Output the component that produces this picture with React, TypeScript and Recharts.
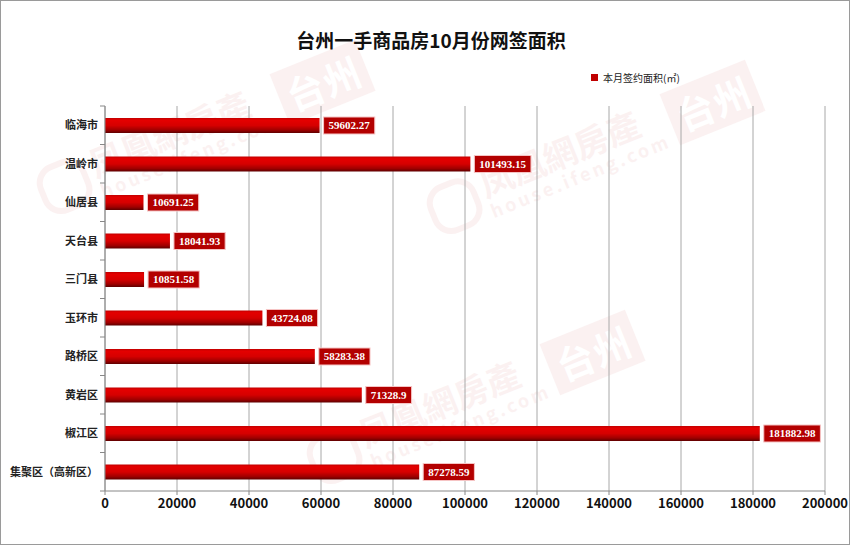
import React from "react";
import { BarChart, Bar, XAxis, YAxis, CartesianGrid, LabelList } from "recharts";

const categories = ["临海市", "温岭市", "仙居县", "天台县", "三门县", "玉环市", "路桥区", "黄岩区", "椒江区", "集聚区（高新区）"];
const areaValues = [59602.27, 101493.15, 10691.25, 18041.93, 10851.58, 43724.08, 58283.38, 71328.9, 181882.98, 87278.59];
const xTicks = [0, 20000, 40000, 60000, 80000, 100000, 120000, 140000, 160000, 180000, 200000];
const seriesName = "本月签约面积(㎡)";
const titleText = "台州一手商品房10月份网签面积";

const data = categories.map((c, i) => ({ name: c, value: areaValues[i] }));

const CJK = '"Noto Sans CJK SC", "Noto Sans", sans-serif';
const BAND = 38.5;

const YTick = (props: any) => {
  const { x, y, payload, index } = props;
  const ax = x + 8;
  return (
    <g>
      <line x1={ax - 5} x2={ax} y1={y - BAND / 2} y2={y - BAND / 2} stroke="#888" />
      {index === categories.length - 1 && (
        <line x1={ax - 5} x2={ax} y1={y + BAND / 2} y2={y + BAND / 2} stroke="#888" />
      )}
      <text x={ax - 7} y={y} dy="0.35em" textAnchor="end" fontFamily={CJK} fontWeight={700} fontSize={11} fill="#222">
        {payload.value}
      </text>
    </g>
  );
};

const ValueLabel = (props: any) => {
  const { x, y, width, height, value } = props;
  const txt = String(value);
  const w = txt.length * 5.4 + 8;
  const bx = x + width + 4;
  const cy = y + height / 2;
  return (
    <g>
      <rect x={bx} y={cy - 8.5} width={w} height={17} fill="#b30000" stroke="#f6c4c4" strokeWidth={1} />
      <text x={bx + w / 2} y={cy} dy="0.36em" textAnchor="middle" fill="#fff" fontFamily='"Liberation Serif", "DejaVu Serif", serif' fontWeight={700} fontSize={11}>
        {txt}
      </text>
    </g>
  );
};

const Watermark = ({ left, top, rot }: { left: number; top: number; rot: number }) => (
  <div
    style={{
      position: "absolute",
      left,
      top,
      transform: `rotate(${rot}deg)`,
      transformOrigin: "left top",
      color: "#c00000",
      opacity: 0.05,
      fontFamily: '"Noto Sans CJK TC", sans-serif',
      whiteSpace: "nowrap",
      display: "flex",
      alignItems: "center",
    }}
  >
    <div style={{ width: 40, height: 40, borderRadius: 20, border: "6px solid #c00000", marginRight: 6 }} />
    <div>
      <div style={{ fontSize: 34, lineHeight: "36px", fontWeight: 700 }}>凤凰網房產</div>
      <div style={{ fontSize: 18, lineHeight: "20px", letterSpacing: 3, fontWeight: 700 }}>house.ifeng.com</div>
    </div>
    <div style={{ marginLeft: 8, background: "#c00000", color: "#fff", fontSize: 38, fontWeight: 700, padding: "0 8px" }}>台州</div>
  </div>
);

export default function App() {
  return (
    <div
      style={{
        position: "absolute",
        left: 0,
        top: 0,
        width: 850,
        height: 545,
        background: "#fff",
        overflow: "hidden",
      }}
    >
      <Watermark left={30} top={170} rot={-22} />
      <Watermark left={420} top={190} rot={-22} />
      <Watermark left={300} top={440} rot={-22} />
      <div
        style={{
          position: "absolute",
          left: 0,
          top: 0,
          width: 850,
          height: 545,
          boxSizing: "border-box",
          border: "1px solid #9a9a9a",
        }}
      />
      <div
        style={{
          position: "absolute",
          left: 0,
          top: 26,
          width: 862,
          textAlign: "center",
          fontFamily: CJK,
          fontWeight: 700,
          fontSize: 19,
          color: "#111",
        }}
      >
        {titleText}
      </div>
      <div
        style={{
          position: "absolute",
          left: 591,
          top: 70,
          display: "flex",
          alignItems: "center",
          fontFamily: CJK,
          fontSize: 10,
          color: "#222",
          whiteSpace: "nowrap",
        }}
      >
        <span style={{ display: "inline-block", width: 7, height: 7, background: "#c00000", marginRight: 5 }} />
        {seriesName}
      </div>
      <div style={{ position: "absolute", left: 0, top: 0 }}>
        <BarChart
          width={850}
          height={545}
          data={data}
          layout="vertical"
          margin={{ top: 106, right: 25, bottom: 0, left: 0 }}
          barCategoryGap={0}
        >
          <defs>
            <linearGradient id="barGrad" x1="0" y1="0" x2="0" y2="1">
              <stop offset="0" stopColor="#c20000" />
              <stop offset="0.15" stopColor="#e40000" />
              <stop offset="0.5" stopColor="#d60000" />
              <stop offset="0.8" stopColor="#a00000" />
              <stop offset="1" stopColor="#5e0000" />
            </linearGradient>
          </defs>
          <CartesianGrid horizontal={false} vertical={true} stroke="#a8a8a8" />
          <XAxis
            type="number"
            domain={[0, 200000]}
            ticks={xTicks}
            interval={0}
            height={54}
            axisLine={{ stroke: "#888" }}
            tickLine={{ stroke: "#888" }}
            tickSize={4}
            tick={{ fontFamily: CJK, fontWeight: 700, fontSize: 13, fill: "#111" }}
            tickMargin={4}
          />
          <YAxis
            type="category"
            dataKey="name"
            width={105}
            axisLine={{ stroke: "#888" }}
            tickLine={false}
            tick={<YTick />}
            interval={0}
          />
          <Bar dataKey="value" name={seriesName} fill="url(#barGrad)" barSize={15} isAnimationActive={false}>
            <LabelList dataKey="value" content={<ValueLabel />} />
          </Bar>
        </BarChart>
      </div>
    </div>
  );
}
